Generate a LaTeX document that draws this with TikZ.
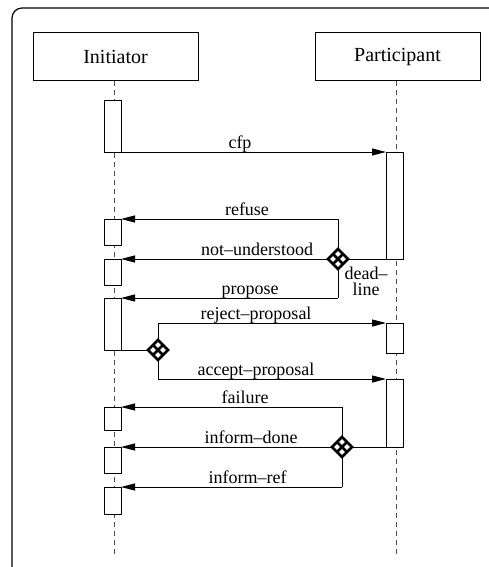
\documentclass[tikz,border=0pt]{standalone}
\usepackage{fontspec}
\setmainfont{Liberation Serif}
\usetikzlibrary{arrows.meta,shapes.geometric,calc}
\begin{document}
\begin{tikzpicture}[x=1pt,y=-1pt,
  actor/.style={draw, line width=1pt, minimum width=165pt, minimum height=48pt,
    inner sep=0pt, font=\fontsize{20}{22}\selectfont},
  lifeline/.style={draw=black!70, line width=1pt, dash pattern=on 5pt off 4pt},
  actbar/.style={draw, fill=white, line width=1pt, minimum width=17pt, inner sep=0pt,
    outer sep=0pt, anchor=north},
  msg/.style={line width=1pt, -{Triangle[length=14pt,width=7pt]}},
  wire/.style={line width=1pt},
  lbl/.style={anchor=base, inner sep=0pt, font=\fontsize{18}{20}\selectfont},
  choice/.style={diamond, draw, fill=white, line width=2.6pt, minimum width=20pt,
    minimum height=20pt, inner sep=0pt, outer sep=0pt},
  cross/.style={line width=2.6pt},
]
\useasboundingbox (0,0) rectangle (488,567);

% frame
\draw[line width=1.2pt, rounded corners=10pt] (12,575) -- (12,8) -- (500,8);

% participants
\node[actor] (ini) at (115.5,57) {Initiator};
\node[actor] (par) at (397.5,57) {Participant};

% lifelines
\coordinate (iniTop) at (114,81);
\coordinate (iniBot) at (114,557);
\coordinate (parTop) at (396,81);
\coordinate (parBot) at (396,557);
\draw[lifeline] (iniTop) -- (iniBot);
\draw[lifeline] (parTop) -- (parBot);

% activation bars of the initiator
\node[actbar, minimum height=51pt] (i1) at (112.5,101) {};
\node[actbar, minimum height=26pt] (i2) at (112.5,219) {};
\node[actbar, minimum height=26pt] (i3) at (112.5,259) {};
\node[actbar, minimum height=52pt] (i4) at (112.5,298) {};
\node[actbar, minimum height=23pt] (i5) at (112.5,407) {};
\node[actbar, minimum height=26pt] (i6) at (112.5,447) {};
\node[actbar, minimum height=27pt] (i7) at (112.5,487) {};

% activation bars of the participant
\node[actbar, minimum height=107pt] (p1) at (394.5,152) {};
\node[actbar, minimum height=30pt] (p2) at (394.5,323) {};
\node[actbar, minimum height=68pt] (p3) at (394.5,379) {};

% decision points
\node[choice] (d1) at (338,259) {};
\node[choice] (d2) at (158,350) {};
\node[choice] (d3) at (342,447) {};
\foreach \d in {d1,d2,d3}{
  \draw[cross] ($(\d.north)!.5!(\d.west)$) -- ($(\d.south)!.5!(\d.east)$);
  \draw[cross] ($(\d.north)!.5!(\d.east)$) -- ($(\d.south)!.5!(\d.west)$);
}

% cfp
\draw[msg] (i1.south east) -- (p1.north west);
\node[lbl] (lcfp) at (240,148) {cfp};

% answers to the call for proposals
\coordinate (refTop) at (338,219);
\coordinate (propBot) at (338,298);
\draw[wire] (refTop) -- (d1.north);
\draw[wire] (d1.south) -- (propBot);
\draw[msg] (refTop) -- (i2.north east);
\draw[wire] (p1.south west) -- (d1.east);
\draw[msg] (d1.west) -- (i3.north east);
\draw[msg] (propBot) -- (i4.north east);
\node[lbl] (lref) at (247,215) {refuse};
\node[lbl] (lnu) at (257,255) {not–understood};
\node[lbl] (lprop) at (250,294) {propose};
\node[inner sep=0pt, align=center, font=\fontsize{18}{16}\selectfont]
  (ldead) at (366,281) {dead–\\line};

% evaluation of the proposal
\draw[wire] (i4.south east) -- (d2.west);
\draw[msg] (d2.north) |- (p2.north west);
\draw[msg] (d2.south) |- (p3.north west);
\node[lbl] (lrej) at (256,319) {reject–proposal};
\node[lbl] (lacc) at (256,375) {accept–proposal};

% results
\coordinate (failTop) at (342,407);
\coordinate (refBot) at (342,487);
\draw[wire] (failTop) -- (d3.north);
\draw[wire] (d3.south) -- (refBot);
\draw[msg] (failTop) -- (i5.north east);
\draw[wire] (p3.south west) -- (d3.east);
\draw[msg] (d3.west) -- (i6.north east);
\draw[msg] (refBot) -- (i7.north east);
\node[lbl] (lfail) at (245,403) {failure};
\node[lbl] (ldone) at (251,443) {inform–done};
\node[lbl] (lir) at (247.5,483) {inform–ref};
\end{tikzpicture}
\end{document}
